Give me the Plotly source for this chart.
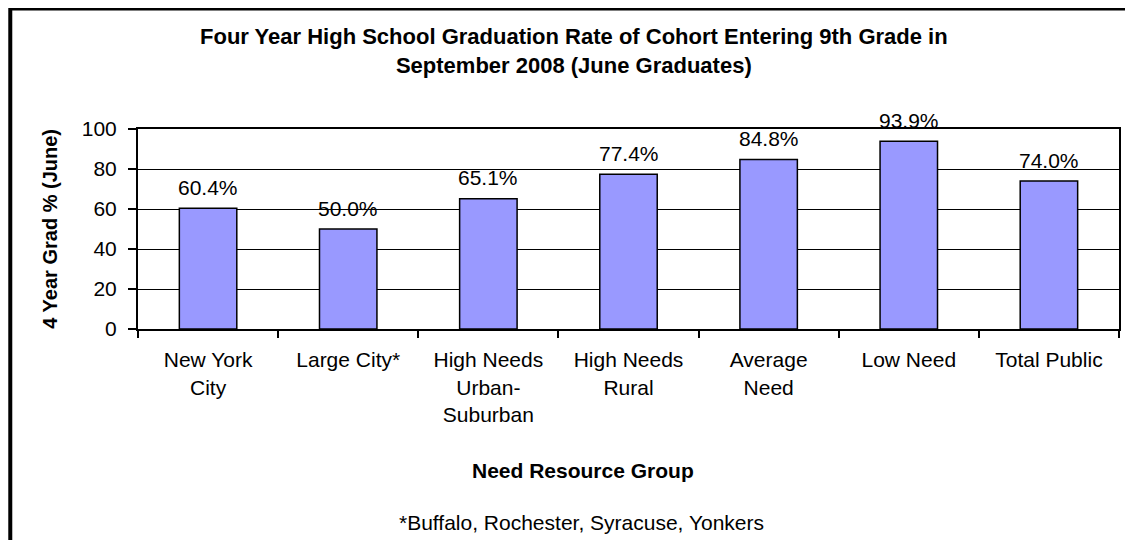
import plotly.graph_objects as go

categories = ["New York<br>City", "Large City*", "High Needs<br>Urban-<br>Suburban",
              "High Needs<br>Rural", "Average<br>Need", "Low Need", "Total Public"]
grad_rates = [60.4, 50.0, 65.1, 77.4, 84.8, 93.9, 74.0]
rate_labels = ["60.4%", "50.0%", "65.1%", "77.4%", "84.8%", "93.9%", "74.0%"]
y_ticks = [0, 20, 40, 60, 80, 100]

FONT = "Arial, Liberation Sans, sans-serif"

fig = go.Figure()
fig.add_trace(go.Bar(
    x=categories, y=grad_rates,
    marker=dict(color="#9999FF", line=dict(color="black", width=1.5)),
    hoverinfo="skip",
))

ann = []
for c, v, t in zip(categories, grad_rates, rate_labels):
    ann.append(dict(x=c, y=v, text=t, showarrow=False, yanchor="middle", yshift=21,
                    font=dict(family=FONT, size=21, color="black")))

ann.append(dict(xref="paper", yref="paper", x=0.4446, y=1.39,
                text="Four Year High School Graduation Rate of Cohort Entering 9th Grade in<br>September 2008 (June Graduates)",
                showarrow=False, xanchor="center", yanchor="middle",
                font=dict(family=FONT, size=22, color="black", weight="bold")))
ann.append(dict(xref="paper", yref="paper", x=-0.09, y=0.5, textangle=-90,
                text="4 Year Grad % (June)", showarrow=False,
                xanchor="center", yanchor="middle",
                font=dict(family=FONT, size=20, color="black", weight="bold")))
ann.append(dict(xref="paper", yref="paper", x=0.4537, y=-0.705,
                text="Need Resource Group", showarrow=False,
                xanchor="center", yanchor="middle",
                font=dict(family=FONT, size=21, color="black", weight="bold")))
ann.append(dict(xref="paper", yref="paper", x=0.4517, y=-0.965,
                text="*Buffalo, Rochester, Syracuse, Yonkers", showarrow=False,
                xanchor="center", yanchor="middle",
                font=dict(family=FONT, size=21, color="black")))

# page body has an 8px default margin, so the figure is sized to fill the rest
fig.update_layout(
    width=1125, height=532,
    margin=dict(l=130, r=12, t=121, b=211),
    paper_bgcolor="white", plot_bgcolor="white",
    showlegend=False,
    bargap=0.59,
    annotations=ann,
    font=dict(family=FONT, size=21, color="black"),
    shapes=[dict(type="rect", xref="paper", yref="paper",
                 x0=-0.1302, x1=1.03, y0=-1.2, y1=1.6025,
                 line=dict(color="black", width=4), layer="above")],
)
fig.update_xaxes(
    showline=True, linecolor="black", linewidth=2, mirror=True,
    ticks="outside", ticklen=7, tickwidth=1.5, tickcolor="black",
    tickson="boundaries", showgrid=False,
    tickfont=dict(family=FONT, size=21, color="black"),
    ticklabelstandoff=11,
)
fig.update_yaxes(
    range=[0, 100], tickvals=y_ticks,
    showline=True, linecolor="black", linewidth=2, mirror=True,
    ticks="outside", ticklen=8, tickwidth=1.5, tickcolor="black",
    showgrid=True, gridcolor="black", gridwidth=1,
    zeroline=False,
    tickfont=dict(family=FONT, size=21, color="black"),
    ticklabelstandoff=7,
)

fig.write_html("out.html")
